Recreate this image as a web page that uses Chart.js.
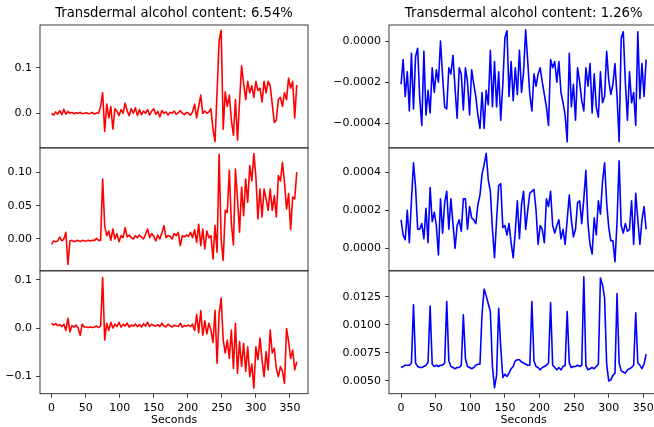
<!DOCTYPE html>
<html>
<head>
<meta charset="utf-8">
<script src="https://cdn.jsdelivr.net/npm/chart.js@4.4.0/dist/chart.umd.min.js"></script>
<style>
  html, body { margin: 0; padding: 0; background: #fff; overflow: hidden; }
  #fig { position: relative; width: 654px; height: 427px; overflow: hidden; }
  #fig canvas { position: absolute; left: 0; top: 0; }
</style>
</head>
<body>
<div id="fig">
  <canvas id="tl" width="680" height="427"></canvas>
  <canvas id="ml" width="680" height="427"></canvas>
  <canvas id="bl" width="680" height="427"></canvas>
  <canvas id="tr" width="680" height="427"></canvas>
  <canvas id="mr" width="680" height="427"></canvas>
  <canvas id="br" width="680" height="427"></canvas>
</div>
<script>
// sample grid (every 3 s)
const secondsLeft = Array.from({ length: 121 }, (_, i) => i * 3);   // 0..360
const secondsRight = Array.from({ length: 119 }, (_, i) => i * 3);  // 0..354

// 6.54% subject (red)
const redTop = [
  0.000, -0.004, 0.003, -0.002, 0.006, -0.003, 0.009, -0.002, 0.004, 0.000,
  0.002, -0.001, 0.001, 0.000, 0.002, -0.001, 0.000, 0.001, -0.001, 0.000,
  0.002, -0.002, 0.001, 0.000, 0.015, 0.045, -0.040, 0.020, -0.010, 0.015,
  -0.035, 0.010, 0.005, -0.005, 0.008, 0.000, 0.022, 0.005, -0.005, 0.010,
  0.000, 0.012, -0.005, 0.008, -0.003, 0.005, 0.000, 0.008, -0.004, 0.005,
  0.010, -0.002, 0.004, -0.008, 0.006, 0.000, 0.003, -0.004, 0.002, 0.000,
  0.005, -0.002, 0.001, 0.006, 0.000, -0.003, 0.002, 0.000, -0.004, 0.003,
  0.020, -0.010, 0.015, 0.040, 0.000, 0.005, 0.000, 0.003, 0.010, -0.035,
  -0.062, 0.047, 0.160, 0.182, -0.035, 0.047, 0.015, 0.040, -0.015, -0.048,
  0.030, -0.059, 0.025, 0.104, 0.065, 0.030, 0.070, 0.045, 0.060, 0.035,
  0.070, 0.050, 0.055, 0.025, 0.070, 0.045, 0.070, 0.060, 0.020, -0.020,
  -0.015, 0.030, 0.035, 0.015, 0.045, 0.030, 0.077, 0.055, 0.070, -0.010,
  0.062
];
const redMid = [
  -0.008, -0.003, -0.004, -0.003, 0.003, -0.003, 0.000, 0.010, -0.038, -0.003,
  -0.002, -0.004, -0.003, -0.002, -0.004, -0.002, -0.003, -0.003, -0.002, -0.003,
  -0.002, -0.002, 0.001, -0.002, -0.002, 0.090, 0.020, 0.005, 0.012, -0.002,
  0.015, 0.000, 0.008, -0.004, 0.005, 0.002, 0.017, 0.003, 0.006, 0.002,
  0.000, 0.005, 0.002, 0.006, 0.003, 0.000, 0.007, 0.015, 0.002, 0.008,
  0.004, -0.003, 0.006, 0.000, 0.009, 0.020, 0.002, 0.005, 0.004, 0.000,
  0.008, 0.005, 0.010, -0.010, 0.005, 0.003, 0.006, 0.004, 0.010, 0.002,
  0.014, -0.005, 0.022, -0.010, 0.015, -0.015, 0.012, 0.002, 0.005, -0.030,
  0.020, -0.020, 0.127, 0.000, -0.032, 0.043, 0.040, 0.103, 0.023, -0.009,
  0.105, 0.060, 0.010, 0.078, 0.035, 0.090, 0.055, 0.110, 0.087, 0.128,
  0.093, 0.030, 0.075, 0.033, 0.075, 0.060, 0.043, 0.075, 0.043, 0.065,
  0.033, 0.095, 0.087, 0.115, 0.085, 0.045, 0.068, 0.014, 0.063, 0.060,
  0.100
];
const redBottom = [
  0.010, 0.006, 0.009, 0.005, 0.007, 0.003, 0.008, -0.005, 0.020, -0.008,
  0.005, 0.002, 0.006, 0.000, -0.015, 0.008, 0.002, 0.002, 0.001, 0.002,
  0.001, 0.002, 0.004, 0.001, 0.004, 0.105, -0.025, 0.010, -0.005, 0.012,
  0.000, 0.008, 0.003, 0.012, 0.002, 0.008, 0.004, 0.010, 0.002, 0.006,
  0.004, 0.008, 0.003, 0.007, 0.002, 0.009, 0.004, 0.012, 0.003, 0.008,
  0.005, 0.004, 0.007, 0.003, 0.010, 0.004, 0.002, 0.008, 0.005, 0.002,
  0.006, 0.004, 0.003, 0.010, 0.002, 0.005, 0.004, 0.006, 0.003, 0.008,
  -0.005, 0.028, -0.010, 0.036, -0.015, 0.015, -0.012, 0.010, -0.005, -0.030,
  0.037, -0.073, 0.030, 0.062, -0.025, -0.052, -0.025, -0.063, -0.004, -0.084,
  0.010, -0.094, -0.028, -0.080, -0.032, -0.090, -0.039, -0.101, -0.075, -0.125,
  -0.039, -0.066, -0.021, -0.066, -0.101, -0.049, -0.087, -0.004, -0.052, -0.042,
  -0.084, -0.101, -0.080, -0.090, -0.115, -0.001, -0.028, -0.063, -0.046, -0.087,
  -0.070
];

// 1.26% subject (blue)
const blueTop = [
  -2.1e-4, -0.9e-4, -2.7e-4, -1.5e-4, -3.4e-4, -0.6e-4, -3.3e-4, -0.75e-4, -0.35e-4, -2.8e-4,
  -4.1e-4, -0.5e-4, -3.6e-4, -2.4e-4, -3.5e-4, -1.3e-4, -2.5e-4, -1.4e-4, -2.0e-4, 0.0,
  -1.7e-4, -3.2e-4, -3.3e-4, -1.3e-4, -1.6e-4, -0.7e-4, -2.3e-4, -3.75e-4, -1.3e-4, -1.6e-4,
  -3.35e-4, -1.3e-4, -2.0e-4, -3.6e-4, -1.4e-4, -2.1e-4, -2.7e-4, -3.6e-4, -4.25e-4, -2.5e-4,
  -4.25e-4, -2.4e-4, -3.1e-4, -0.45e-4, -3.2e-4, -1.0e-4, -3.2e-4, -1.5e-4, -3.85e-4, -2.1e-4,
  0.15e-4, 0.5e-4, -2.7e-4, -1.0e-4, -2.9e-4, -1.3e-4, -2.6e-4, -0.45e-4, -2.5e-4, -1.5e-4,
  0.55e-4, -1.0e-4, -2.6e-4, -3.4e-4, -1.6e-4, -2.2e-4, -1.6e-4, -1.3e-4, -2.0e-4, -2.6e-4,
  -3.2e-4, -4.1e-4, -0.9e-4, -1.3e-4, -1.0e-4, -2.0e-4, -1.0e-4, -2.5e-4, -3.0e-4, -3.6e-4,
  -4.9e-4, -0.6e-4, -3.2e-4, -2.1e-4, -3.85e-4, -1.3e-4, -2.0e-4, -2.9e-4, -3.4e-4, -1.3e-4,
  -2.2e-4, -1.1e-4, -3.5e-4, -1.6e-4, -3.2e-4, -3.7e-4, -1.5e-4, -3.0e-4, -2.7e-4, -0.5e-4,
  -1.9e-4, -2.6e-4, -2.1e-4, -1.1e-4, -2.7e-4, -4.9e-4, 0.15e-4, 0.45e-4, -2.0e-4, -3.85e-4,
  -1.5e-4, -3.0e-4, -2.5e-4, -4.1e-4, 0.45e-4, -2.8e-4, -1.1e-4, -2.7e-4, -0.9e-4
];
const blueMid = [
  1.5e-4, 0.7e-4, 0.45e-4, 2.0e-4, 0.3e-4, 2.5e-4, 4.5e-4, 3.2e-4, 1.0e-4, 1.0e-4,
  1.3e-4, 0.5e-4, 2.1e-4, 0.3e-4, 3.2e-4, 1.4e-4, 1.9e-4, 1.2e-4, -0.35e-4, 2.6e-4,
  0.8e-4, 2.4e-4, 3.0e-4, 1.0e-4, 2.6e-4, 1.3e-4, 0.0, 1.2e-4, 1.5e-4, 0.9e-4,
  2.6e-4, 2.6e-4, 1.0e-4, 2.2e-4, 1.6e-4, 1.5e-4, 1.3e-4, 2.3e-4, 2.8e-4, 3.9e-4,
  4.4e-4, 5.0e-4, 3.6e-4, 3.0e-4, 1.0e-4, -0.5e-4, 1.5e-4, 3.3e-4, 3.4e-4, 1.1e-4,
  1.2e-4, 0.7e-4, 1.3e-4, 0.3e-4, -0.5e-4, 0.9e-4, 2.5e-4, 0.5e-4, 2.3e-4, 3.0e-4,
  1.0e-4, 2.0e-4, 2.9e-4, 3.0e-4, 3.1e-4, 2.0e-4, 0.2e-4, 1.2e-4, 1.0e-4, 0.3e-4,
  2.6e-4, 2.2e-4, 3.0e-4, 1.2e-4, 0.8e-4, 1.2e-4, 1.5e-4, 0.5e-4, 1.0e-4, 0.2e-4,
  1.5e-4, 2.8e-4, 1.5e-4, 0.6e-4, 1.0e-4, 2.4e-4, 2.5e-4, 1.3e-4, 2.6e-4, 4.1e-4,
  1.3e-4, 0.2e-4, -0.3e-4, 1.6e-4, 0.7e-4, 2.5e-4, 1.8e-4, 3.5e-4, 4.5e-4, 2.4e-4,
  1.1e-4, 0.4e-4, 0.4e-4, -0.7e-4, 1.4e-4, 4.6e-4, 1.2e-4, 0.8e-4, 1.3e-4, 0.9e-4,
  1.0e-4, 2.5e-4, 0.2e-4, 2.9e-4, 1.5e-4, 0.2e-4, 1.5e-4, 2.2e-4, 1.0e-4
];
const blueBottom = [
  0.0062, 0.0063, 0.0064, 0.0064, 0.0064, 0.0066, 0.0118, 0.0066, 0.0063, 0.0062,
  0.0062, 0.0063, 0.0064, 0.0067, 0.0117, 0.0065, 0.0063, 0.0064, 0.0063, 0.0064,
  0.0064, 0.0066, 0.0121, 0.0068, 0.0063, 0.0062, 0.0061, 0.0062, 0.0062, 0.0064,
  0.0109, 0.0070, 0.0063, 0.0062, 0.0061, 0.0062, 0.0064, 0.0065, 0.0065, 0.0110,
  0.0132, 0.0126, 0.0119, 0.0112, 0.0063, 0.0044, 0.0055, 0.0115, 0.0080, 0.0053,
  0.0056, 0.0054, 0.0057, 0.0061, 0.0063, 0.0068, 0.0069, 0.0069, 0.0067, 0.0066,
  0.0065, 0.0064, 0.0064, 0.0121, 0.0068, 0.0063, 0.0062, 0.0060, 0.0062, 0.0063,
  0.0064, 0.0066, 0.0120, 0.0064, 0.0062, 0.0060, 0.0062, 0.0060, 0.0063, 0.0064,
  0.0112, 0.0066, 0.0062, 0.0063, 0.0063, 0.0064, 0.0063, 0.0064, 0.0143, 0.0064,
  0.0060, 0.0061, 0.0062, 0.0061, 0.0063, 0.0065, 0.0142, 0.0136, 0.0124, 0.0065,
  0.0050, 0.0051, 0.0055, 0.0057, 0.0128, 0.0066, 0.0059, 0.0058, 0.0057, 0.0060,
  0.0061, 0.0062, 0.0064, 0.0111, 0.0066, 0.0064, 0.0061, 0.0065, 0.0074
];

// ticks
const xTicks = [0, 50, 100, 150, 200, 250, 300, 350];
const xTickLabels = ['0', '50', '100', '150', '200', '250', '300', '350'];
const yTicksTL = [0, 0.1];                 const yLabelsTL = ['0.0', '0.1'];
const yTicksML = [0, 0.05, 0.1];           const yLabelsML = ['0.00', '0.05', '0.10'];
const yTicksBL = [-0.1, 0, 0.1];           const yLabelsBL = ['\u22120.1', '0.0', '0.1'];
const yTicksTR = [-0.0004, -0.0002, 0];    const yLabelsTR = ['\u22120.0004', '\u22120.0002', '0.0000'];
const yTicksMR = [0, 0.0002, 0.0004];      const yLabelsMR = ['0.0000', '0.0002', '0.0004'];
const yTicksBR = [0.005, 0.0075, 0.01, 0.0125]; const yLabelsBR = ['0.0050', '0.0075', '0.0100', '0.0125'];

const W = 680, H = 427;
const FONT = 'DejaVu Sans';
const INK = '#000';
const SPINE = '#262626';
const TITLE_SIZE = 13.2;

// full box around each axes, like matplotlib spines
const frame = {
    id: 'frame',
    afterDraw(chart) {
        const { ctx, chartArea: a } = chart;
        ctx.save();
        ctx.strokeStyle = SPINE;
        ctx.lineWidth = 0.9;
        ctx.strokeRect(a.left, a.top, a.right - a.left, a.bottom - a.top);
        ctx.restore();
    }
};

function panel(id, xs, ys, color, box, xr, yr, yTicks, yLabels, title, showX) {
    const titleLine = TITLE_SIZE * 1.2;
    new Chart(document.getElementById(id), {
        type: 'line',
        data: {
            datasets: [{
                data: xs.map((x, i) => ({ x: x, y: ys[i] })),
                borderColor: color,
                borderWidth: 1.6,
                borderJoinStyle: 'round',
                pointRadius: 0,
                tension: 0,
                fill: false
            }]
        },
        options: {
            responsive: false,
            animation: false,
            devicePixelRatio: 1,
            events: [],
            layout: {
                padding: {
                    left: 0,
                    right: W - box.right,
                    top: title ? 0 : box.top,
                    bottom: showX ? 0 : H - box.bottom
                }
            },
            plugins: {
                legend: { display: false },
                tooltip: { enabled: false },
                title: {
                    display: !!title,
                    text: title || '',
                    fullSize: false,
                    color: INK,
                    font: { family: FONT, size: TITLE_SIZE, weight: 'normal' },
                    padding: { top: 14 - titleLine / 2, bottom: box.top - 14 - titleLine / 2 }
                }
            },
            scales: {
                x: {
                    type: 'linear',
                    min: xr[0], max: xr[1],
                    bounds: 'data',
                    display: showX,
                    afterFit: s => { s.height = showX ? H - box.bottom : 0; },
                    afterBuildTicks: s => { s.ticks = xTicks.map(v => ({ value: v })); },
                    ticks: {
                        autoSkip: false, maxRotation: 0, padding: 3.5, color: INK,
                        font: { family: FONT, size: 11 },
                        callback: (v, i) => xTickLabels[i]
                    },
                    grid: { drawOnChartArea: false, tickLength: 4, tickColor: SPINE, tickWidth: 0.9 },
                    border: { display: false },
                    title: {
                        display: true, text: 'Seconds', color: INK,
                        font: { family: FONT, size: 11 }, padding: 0
                    }
                },
                y: {
                    type: 'linear',
                    min: yr[0], max: yr[1],
                    bounds: 'data',
                    afterFit: s => { s.width = box.left; },
                    afterBuildTicks: s => { s.ticks = yTicks.map(v => ({ value: v })); },
                    ticks: {
                        autoSkip: false, padding: 4, color: INK,
                        font: { family: FONT, size: 11 },
                        callback: (v, i) => yLabels[i]
                    },
                    grid: { drawOnChartArea: false, tickLength: 4, tickColor: SPINE, tickWidth: 0.9 },
                    border: { display: false }
                }
            }
        },
        plugins: [frame]
    });
}

const leftX = [-17, 376.5];
const rightX = [-17.4, 371.7];
const rows = [25, 147.9, 270.8, 393.7];
const leftCol = { left: 40, right: 308 };
// right column runs past the picture edge, like the original figure
const rightCol = { left: 389, right: 389 + (rightX[1] - rightX[0]) * 0.6923 };

function box(col, r) {
    return { left: col.left, right: col.right, top: rows[r], bottom: rows[r + 1] };
}

panel('tl', secondsLeft, redTop, '#ff0000', box(leftCol, 0), leftX, [-0.0759, 0.1936],
      yTicksTL, yLabelsTL, 'Transdermal alcohol content: 6.54%', false);
panel('ml', secondsLeft, redMid, '#ff0000', box(leftCol, 1), leftX, [-0.0477, 0.1366],
      yTicksML, yLabelsML, null, false);
panel('bl', secondsLeft, redBottom, '#ff0000', box(leftCol, 2), leftX, [-0.1364, 0.1188],
      yTicksBL, yLabelsBL, null, true);
panel('tr', secondsRight, blueTop, '#0000ff', box(rightCol, 0), rightX, [-0.0005196, 0.0000778],
      yTicksTR, yLabelsTR, 'Transdermal alcohol content: 1.26%', false);
panel('mr', secondsRight, blueMid, '#0000ff', box(rightCol, 1), rightX, [-0.0001184, 0.0005284],
      yTicksMR, yLabelsMR, null, false);
panel('br', secondsRight, blueBottom, '#0000ff', box(rightCol, 2), rightX, [0.003866, 0.014839],
      yTicksBR, yLabelsBR, null, true);
</script>
</body>
</html>
